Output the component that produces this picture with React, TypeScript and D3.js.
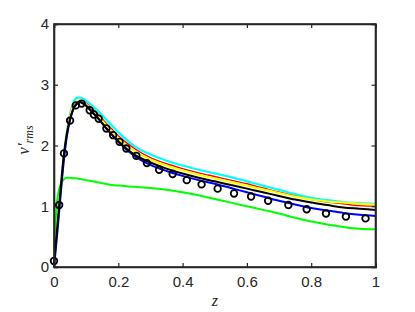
import { useEffect, useRef } from "react";
import * as d3 from "d3";

// z grid shared by the simulated profiles
const zGrid = [0, 0.01, 0.02, 0.03, 0.04, 0.05, 0.06, 0.07, 0.08, 0.09, 0.1, 0.12, 0.14, 0.16, 0.18, 0.2, 0.25, 0.3, 0.35, 0.4, 0.45, 0.5, 0.55, 0.6, 0.65, 0.7, 0.75, 0.8, 0.85, 0.9, 0.95, 1.0];

const cyanV = [0, 0.6, 1.2, 1.78, 2.22, 2.52, 2.7, 2.78, 2.79, 2.77, 2.74, 2.65, 2.55, 2.44, 2.33, 2.22, 1.99, 1.85, 1.75, 1.67, 1.6, 1.54, 1.48, 1.41, 1.34, 1.27, 1.2, 1.14, 1.1, 1.07, 1.05, 1.04];
const redV = [0, 0.58, 1.18, 1.76, 2.2, 2.5, 2.67, 2.73, 2.74, 2.73, 2.7, 2.6, 2.5, 2.38, 2.27, 2.16, 1.95, 1.8, 1.7, 1.62, 1.55, 1.49, 1.43, 1.37, 1.3, 1.23, 1.17, 1.11, 1.07, 1.04, 1.01, 1.0];
const yellowV = [0, 0.58, 1.18, 1.76, 2.2, 2.49, 2.66, 2.73, 2.74, 2.72, 2.68, 2.58, 2.47, 2.35, 2.23, 2.12, 1.91, 1.77, 1.67, 1.59, 1.52, 1.46, 1.4, 1.34, 1.28, 1.22, 1.16, 1.11, 1.08, 1.06, 1.04, 1.03];
const blackV = [0.05, 0.65, 1.25, 1.82, 2.2, 2.44, 2.6, 2.68, 2.71, 2.69, 2.65, 2.54, 2.43, 2.3, 2.18, 2.07, 1.85, 1.72, 1.62, 1.54, 1.47, 1.41, 1.35, 1.29, 1.23, 1.17, 1.11, 1.06, 1.02, 0.98, 0.96, 0.94];
const blueV = [0, 0.55, 1.15, 1.72, 2.15, 2.42, 2.6, 2.69, 2.72, 2.7, 2.66, 2.55, 2.43, 2.3, 2.18, 2.06, 1.83, 1.68, 1.58, 1.5, 1.43, 1.37, 1.3, 1.23, 1.16, 1.09, 1.03, 0.97, 0.93, 0.89, 0.86, 0.84];
const greenV = [0.3, 1.1, 1.35, 1.44, 1.47, 1.47, 1.46, 1.46, 1.45, 1.44, 1.43, 1.41, 1.39, 1.37, 1.35, 1.34, 1.32, 1.3, 1.27, 1.23, 1.18, 1.12, 1.06, 1.0, 0.94, 0.88, 0.81, 0.75, 0.7, 0.66, 0.63, 0.62];

// reference data (circles)
const refZ = [0, 0.016, 0.031, 0.05, 0.068, 0.086, 0.111, 0.124, 0.139, 0.163, 0.184, 0.204, 0.225, 0.256, 0.289, 0.327, 0.369, 0.413, 0.459, 0.509, 0.56, 0.613, 0.666, 0.729, 0.786, 0.846, 0.908, 0.969];
const refV = [0.1, 1.02, 1.87, 2.41, 2.66, 2.69, 2.58, 2.51, 2.44, 2.28, 2.17, 2.06, 1.95, 1.83, 1.71, 1.6, 1.53, 1.43, 1.36, 1.29, 1.21, 1.16, 1.09, 1.02, 0.95, 0.88, 0.83, 0.8];

const xTicks = [0, 0.2, 0.4, 0.6, 0.8, 1];
const yTicks = [0, 1, 2, 3, 4];

function App() {
  const svgRef = useRef<SVGSVGElement>(null);

  useEffect(() => {
    const left = 54, right = 375.5, top = 24, bottom = 267;
    const axisColor = "#262626";

    const svg = d3.select(svgRef.current);
    svg.selectAll("*").remove();

    const x = d3.scaleLinear().domain([0, 1]).range([left, right]);
    const y = d3.scaleLinear().domain([0, 4]).range([bottom, top]);

    const line = d3
      .line<number>()
      .x((_, i) => x(zGrid[i]))
      .y((d) => y(d))
      .curve(d3.curveMonotoneX);

    // drawing order matters: black sits on top in the rise
    const series = [
      { v: cyanV, color: "#00ffff", w: 2.2 },
      { v: greenV, color: "#00ff00", w: 2 },
      { v: redV, color: "#ff0000", w: 1.4 },
      { v: yellowV, color: "#ffff00", w: 2 },
      { v: blueV, color: "#0000ff", w: 2 },
      { v: blackV, color: "#000000", w: 2 },
    ];

    series.forEach((s) => {
      svg
        .append("path")
        .datum(s.v)
        .attr("fill", "none")
        .attr("stroke", s.color)
        .attr("stroke-width", s.w)
        .attr("d", line);
    });

    // circles
    svg
      .append("g")
      .selectAll("circle")
      .data(refV)
      .enter()
      .append("circle")
      .attr("cx", (_, i) => x(refZ[i]))
      .attr("cy", (d) => y(d))
      .attr("r", 3.3)
      .attr("fill", "none")
      .attr("stroke", "#000")
      .attr("stroke-width", 1.8);

    const font = "'Liberation Sans', Arial, sans-serif";

    // axes (ticks inside, box style)
    const bottomAxis = svg
      .append("g")
      .attr("transform", `translate(0,${bottom})`)
      .call(d3.axisBottom(x).tickValues(xTicks).tickSize(-4).tickPadding(9).tickFormat(d3.format("~g")));
    const leftAxis = svg
      .append("g")
      .attr("transform", `translate(${left},0)`)
      .call(d3.axisLeft(y).tickValues(yTicks).tickSize(-4).tickPadding(5).tickFormat(d3.format("d")));
    const topAxis = svg
      .append("g")
      .attr("transform", `translate(0,${top})`)
      .call(d3.axisTop(x).tickValues(xTicks).tickSize(-4).tickFormat(() => ""));
    const rightAxis = svg
      .append("g")
      .attr("transform", `translate(${right},0)`)
      .call(d3.axisRight(y).tickValues(yTicks).tickSize(-4).tickFormat(() => ""));

    [bottomAxis, leftAxis, topAxis, rightAxis].forEach((a) => {
      a.select(".domain").attr("stroke", axisColor).attr("stroke-width", 1.6);
      a.selectAll(".tick line").attr("stroke", axisColor).attr("stroke-width", 1.2);
      a.selectAll(".tick text")
        .attr("fill", axisColor)
        .style("font-family", font)
        .style("font-size", "15px");
    });
    // box outline
    svg
      .append("rect")
      .attr("x", left)
      .attr("y", top)
      .attr("width", right - left)
      .attr("height", bottom - top)
      .attr("fill", "none")
      .attr("stroke", axisColor)
      .attr("stroke-width", 1.6);

    // axis labels
    svg
      .append("text")
      .attr("x", (left + right) / 2)
      .attr("y", 306)
      .attr("text-anchor", "middle")
      .style("font-family", "'Liberation Serif', 'Times New Roman', serif")
      .style("font-style", "italic")
      .style("font-size", "16px")
      .attr("fill", axisColor)
      .text("z");

    const yl = svg
      .append("text")
      .attr("transform", `translate(29,140) rotate(-90)`)
      .attr("text-anchor", "middle")
      .style("font-family", "'Liberation Serif', 'Times New Roman', serif")
      .style("font-style", "italic")
      .style("font-size", "17px")
      .attr("fill", axisColor);
    yl.append("tspan").text("v′");
    yl.append("tspan").attr("dy", 4).style("font-size", "12px").text("rms");
  }, []);

  return (
    <svg
      ref={svgRef}
      width={415}
      height={312}
      style={{ position: "absolute", left: 0, top: 0, background: "#fff" }}
    />
  );
}

export default App;
